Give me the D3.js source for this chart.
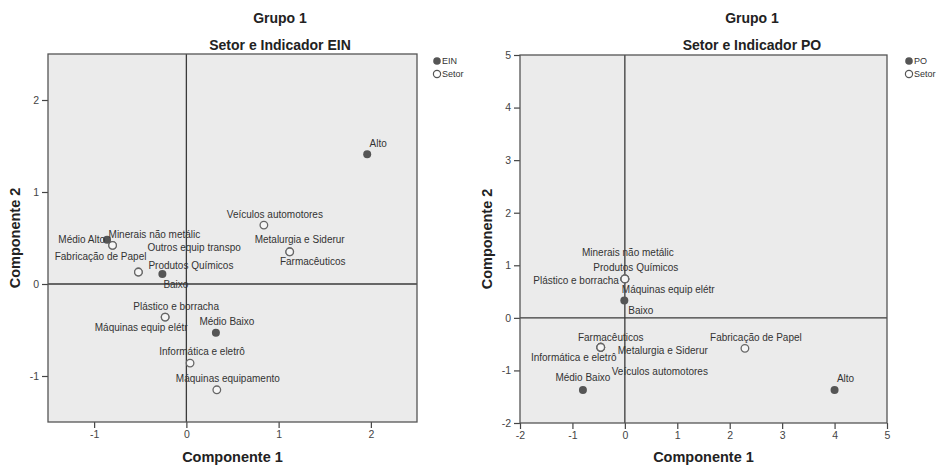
<!DOCTYPE html>
<html>
<head>
<meta charset="utf-8">
<script src="https://cdn.jsdelivr.net/npm/d3@7/dist/d3.min.js"></script>
<style>
  html, body { margin: 0; padding: 0; background: #fff; }
  svg { display: block; font-family: "Liberation Sans", Arial, sans-serif; }
</style>
</head>
<body>
<svg id="chart" width="940" height="465"></svg>
<script>
// ---------- DATA ----------
// Panel 1: Setor e Indicador EIN
const einIndicadorNames = ["Alto", "Médio Alto", "Baixo", "Médio Baixo"];
const einIndicadorX = [1.96, -0.86, -0.26, 0.32];
const einIndicadorY = [1.41, 0.48, 0.11, -0.53];

const einSetorNames = ["Minerais não metálic", "Fabricação de Papel", "Outros equip transpo", "Produtos Químicos",
  "Veículos automotores", "Metalurgia e Siderur", "Farmacêuticos", "Plástico e borracha",
  "Máquinas equip elétr", "Informática e eletrô", "Máquinas equipamento"];
const einSetorX = [-0.80, -0.80, -0.52, -0.52, 0.84, 1.12, 1.12, -0.23, -0.23, 0.04, 0.33];
const einSetorY = [0.42, 0.42, 0.13, 0.13, 0.64, 0.35, 0.35, -0.36, -0.36, -0.86, -1.15];

const einXTicks = ["-1", "0", "1", "2"];
const einYTicks = ["-1", "0", "1", "2"];

// Panel 2: Setor e Indicador PO
const poIndicadorNames = ["Baixo", "Médio Baixo", "Alto"];
const poIndicadorX = [-0.01, -0.80, 4.00];
const poIndicadorY = [0.33, -1.37, -1.37];

const poSetorNames = ["Minerais não metálic", "Produtos Químicos", "Plástico e borracha", "Máquinas equip elétr",
  "Farmacêuticos", "Informática e eletrô", "Metalurgia e Siderur", "Veículos automotores", "Fabricação de Papel"];
const poSetorX = [0.00, 0.00, 0.00, 0.00, -0.46, -0.46, -0.46, -0.46, 2.29];
const poSetorY = [0.74, 0.74, 0.74, 0.74, -0.56, -0.56, -0.56, -0.56, -0.58];

const poXTicks = ["-2", "-1", "0", "1", "2", "3", "4", "5"];
const poYTicks = ["-2", "-1", "0", "1", "2", "3", "4", "5"];

// ---------- LABEL PLACEMENT (layout only) ----------
const einLabelPos = {
  "Alto": [11, -11, "middle"], "Médio Alto": [-2, 0, "end"], "Baixo": [1, 11, "start"], "Médio Baixo": [11, -11, "middle"],
  "Minerais não metálic": [-4, -11, "start"], "Fabricação de Papel": [-12, 11, "middle"],
  "Outros equip transpo": [9, -25, "start"], "Produtos Químicos": [10, -7, "start"],
  "Veículos automotores": [11, -11, "middle"], "Metalurgia e Siderur": [10, -12, "middle"],
  "Farmacêuticos": [23, 10, "middle"], "Plástico e borracha": [11, -11, "middle"],
  "Máquinas equip elétr": [-24, 10, "middle"], "Informática e eletrô": [12, -12, "middle"],
  "Máquinas equipamento": [11, -11, "middle"]
};
const poLabelPos = {
  "Baixo": [4, 10, "start"], "Médio Baixo": [0, -12, "middle"], "Alto": [11, -11, "middle"],
  "Minerais não metálic": [3, -26, "middle"], "Produtos Químicos": [11, -11, "middle"],
  "Plástico e borracha": [-6, 2, "end"], "Máquinas equip elétr": [-3, 11, "start"],
  "Farmacêuticos": [10, -10, "middle"], "Informática e eletrô": [-27, 10, "middle"],
  "Metalurgia e Siderur": [17, 3, "start"], "Veículos automotores": [11, 24, "start"],
  "Fabricação de Papel": [11, -11, "middle"]
};

// ---------- DRAW ----------
const svg = d3.select("#chart");
const textColor = "#333";
const markColor = "#555";

function zip(names, xs, ys) { return names.map((n, i) => ({ name: n, x: xs[i], y: ys[i] })); }

function drawPanel(cfg) {
  const g = svg.append("g");
  const x = d3.scaleLinear().domain(cfg.xDomain).range([cfg.left, cfg.right]);
  const y = d3.scaleLinear().domain(cfg.yDomain).range([cfg.bottom, cfg.top]);

  // titles
  g.append("text").attr("x", cfg.titleX).attr("y", 23).attr("text-anchor", "middle")
    .attr("font-size", 14).attr("font-weight", "bold").attr("fill", "#222").text("Grupo 1");
  g.append("text").attr("x", cfg.titleX).attr("y", 50).attr("text-anchor", "middle")
    .attr("font-size", 14).attr("font-weight", "bold").attr("fill", "#222").text(cfg.subtitle);

  // plot background
  g.append("rect").attr("x", cfg.left).attr("y", cfg.top)
    .attr("width", cfg.right - cfg.left).attr("height", cfg.bottom - cfg.top)
    .attr("fill", "#ebebeb");

  // axes
  const xAxis = d3.axisBottom(x).tickValues(cfg.xTicks.map(Number)).tickSize(6).tickPadding(3)
    .tickFormat((d, i) => cfg.xTicks[i]);
  const yAxis = d3.axisLeft(y).tickValues(cfg.yTicks.map(Number)).tickSize(6).tickPadding(3)
    .tickFormat((d, i) => cfg.yTicks[i]);
  const gx = g.append("g").attr("transform", `translate(0,${cfg.bottom})`).call(xAxis);
  const gy = g.append("g").attr("transform", `translate(${cfg.left},0)`).call(yAxis);
  [gx, gy].forEach(a => {
    a.select(".domain").remove();
    a.selectAll(".tick line").attr("stroke", "#444").attr("stroke-width", 1.2);
    a.selectAll(".tick text").attr("fill", "#444").attr("font-size", 10.5)
      .attr("font-family", "'Liberation Sans', Arial, sans-serif");
  });

  // reference lines
  g.append("line").attr("x1", x(0)).attr("x2", x(0)).attr("y1", cfg.top).attr("y2", cfg.bottom)
    .attr("stroke", "#3a3a3a").attr("stroke-width", 1.3);
  g.append("line").attr("x1", cfg.left).attr("x2", cfg.right).attr("y1", y(0)).attr("y2", y(0))
    .attr("stroke", "#3a3a3a").attr("stroke-width", 1.3);

  // frame
  g.append("rect").attr("x", cfg.left).attr("y", cfg.top)
    .attr("width", cfg.right - cfg.left).attr("height", cfg.bottom - cfg.top)
    .attr("fill", "none").attr("stroke", "#555").attr("stroke-width", 1.3);

  // axis titles
  g.append("text").attr("x", (cfg.left + cfg.right) / 2).attr("y", 462).attr("text-anchor", "middle")
    .attr("font-size", 14.5).attr("font-weight", "bold").attr("fill", "#222").text("Componente 1");
  g.append("text").attr("transform", `translate(${cfg.yTitleX},${(cfg.top + cfg.bottom) / 2}) rotate(-90)`)
    .attr("text-anchor", "middle").attr("font-size", 14.5).attr("font-weight", "bold").attr("fill", "#222")
    .text("Componente 2");

  const setor = zip(cfg.setorNames, cfg.setorX, cfg.setorY);
  const ind = zip(cfg.indNames, cfg.indX, cfg.indY);

  // points
  g.selectAll("circle.setor").data(setor).enter().append("circle").attr("class", "setor")
    .attr("cx", d => x(d.x)).attr("cy", d => y(d.y)).attr("r", 3.8)
    .attr("fill", "#f6f6f6").attr("stroke", "#666").attr("stroke-width", 1.3);
  g.selectAll("circle.ind").data(ind).enter().append("circle").attr("class", "ind")
    .attr("cx", d => x(d.x)).attr("cy", d => y(d.y)).attr("r", 4)
    .attr("fill", markColor);

  // labels
  const all = setor.concat(ind);
  g.selectAll("text.lbl").data(all.filter(d => cfg.labelPos[d.name])).enter().append("text").attr("class", "lbl")
    .attr("x", d => x(d.x) + cfg.labelPos[d.name][0])
    .attr("y", d => y(d.y) + cfg.labelPos[d.name][1])
    .attr("dy", "0.35em")
    .attr("text-anchor", d => cfg.labelPos[d.name][2])
    .attr("font-size", 10).attr("fill", textColor).text(d => d.name);

  // legend
  const lg = g.append("g").attr("transform", `translate(${cfg.legendX},61)`);
  lg.append("circle").attr("cx", 0).attr("cy", 0).attr("r", 3.8).attr("fill", markColor);
  lg.append("text").attr("x", 5).attr("y", 0).attr("dy", "0.35em").attr("font-size", 9).attr("fill", "#333").text(cfg.indLegend);
  lg.append("circle").attr("cx", 0).attr("cy", 13).attr("r", 3.6).attr("fill", "#fff").attr("stroke", "#555").attr("stroke-width", 1.2);
  lg.append("text").attr("x", 5).attr("y", 13).attr("dy", "0.35em").attr("font-size", 9).attr("fill", "#333").text("Setor");
}

drawPanel({
  left: 48, right: 417, top: 54, bottom: 422,
  xDomain: [-1.5, 2.5], yDomain: [-1.5, 2.5],
  xTicks: einXTicks, yTicks: einYTicks,
  titleX: 280, subtitle: "Setor e Indicador EIN", yTitleX: 20,
  setorNames: einSetorNames, setorX: einSetorX, setorY: einSetorY,
  indNames: einIndicadorNames, indX: einIndicadorX, indY: einIndicadorY,
  labelPos: einLabelPos, legendX: 437, indLegend: "EIN"
});

drawPanel({
  left: 520, right: 887, top: 55, bottom: 423,
  xDomain: [-2, 5], yDomain: [-2, 5],
  xTicks: poXTicks, yTicks: poYTicks,
  titleX: 752, subtitle: "Setor e Indicador PO", yTitleX: 492,
  setorNames: poSetorNames, setorX: poSetorX, setorY: poSetorY,
  indNames: poIndicadorNames, indX: poIndicadorX, indY: poIndicadorY,
  labelPos: poLabelPos, legendX: 909, indLegend: "PO"
});
</script>
</body>
</html>
